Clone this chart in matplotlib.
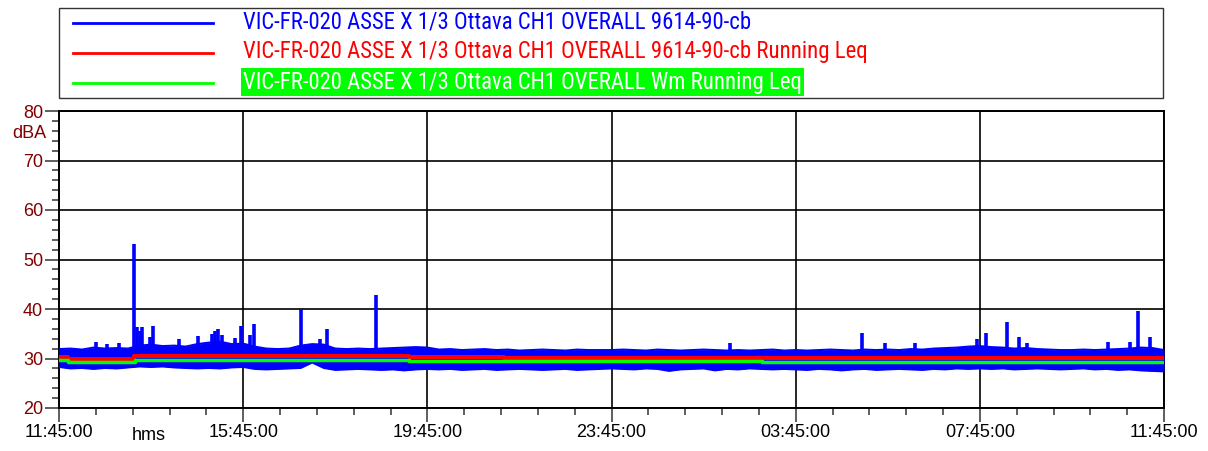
import numpy as np
import matplotlib
matplotlib.use("Agg")
import matplotlib.pyplot as plt
from matplotlib import font_manager as fm
from matplotlib.patches import Rectangle
from matplotlib.lines import Line2D

# ---------------- data ----------------
legend_labels = [
    "VIC-FR-020 ASSE X 1/3 Ottava CH1 OVERALL 9614-90-cb",
    "VIC-FR-020 ASSE X 1/3 Ottava CH1 OVERALL 9614-90-cb Running Leq",
    "VIC-FR-020 ASSE X 1/3 Ottava CH1 OVERALL Wm Running Leq",
]
x_tick_hours = [0, 4, 8, 12, 16, 20, 24]
x_tick_labels = ["11:45:00", "15:45:00", "19:45:00", "23:45:00",
                 "03:45:00", "07:45:00", "11:45:00"]
y_ticks = [20, 30, 40, 50, 60, 70, 80]
y_unit = "dBA"
x_unit = "hms"

# envelope of the blue (instantaneous) level, one value every 15 minutes (hours 0..24)
band_step_h = 0.25
band_hi = [31.9, 32.0, 31.8, 32.2, 32.0, 32.1, 32.0, 32.6, 32.8, 32.5,
           32.6, 32.4, 32.9, 33.2, 33.4, 32.9, 33.0, 32.4, 32.0, 31.9,
           32.0, 32.6, 32.9, 32.8, 32.0, 31.9, 32.0, 31.9, 32.0, 32.1,
           32.2, 32.3, 32.2, 31.8, 31.9, 31.7, 31.8, 31.9, 31.7, 31.8,
           31.6, 31.7, 31.8, 31.7, 31.6, 31.8, 31.7, 31.7, 31.7, 31.8,
           31.7, 31.6, 31.8, 31.7, 31.6, 31.7, 31.8, 31.7, 31.6, 31.7,
           31.6, 31.7, 31.8, 31.6, 31.7, 31.6, 31.7, 31.8, 31.7, 31.6,
           31.8, 31.7, 31.8, 31.7, 31.9, 31.8, 32.0, 32.1, 32.2, 32.4,
           32.5, 32.3, 32.2, 32.0, 32.1, 31.9, 31.8, 31.7, 31.7, 31.8,
           31.7, 31.8, 31.9, 32.0, 32.2, 32.1, 31.7]
band_lo = [28.3, 28.0, 28.1, 27.9, 28.1, 28.0, 28.2, 28.4, 28.3, 28.4,
           28.2, 28.1, 28.0, 28.1, 28.0, 28.2, 28.3, 27.9, 27.8, 27.9,
           28.0, 28.1, 29.2, 28.1, 27.7, 27.8, 27.9, 27.8, 27.7, 27.8,
           27.6, 27.8, 27.9, 27.8, 27.9, 27.7, 27.8, 27.9, 27.7, 27.8,
           27.9, 27.8, 27.7, 27.8, 27.9, 27.7, 27.8, 27.9, 28.0, 27.9,
           27.8, 28.0, 27.9, 27.5, 27.8, 27.9, 28.0, 27.6, 27.9, 27.8,
           28.0, 27.9, 27.8, 27.9, 27.8, 27.7, 27.9, 27.8, 27.6, 27.8,
           27.9, 27.7, 27.8, 27.9, 27.8, 27.7, 27.9, 27.8, 28.0, 27.9,
           28.0, 27.9, 28.0, 27.8, 27.9, 28.0, 27.9, 27.8, 27.9, 28.0,
           27.8, 27.9, 27.7, 27.8, 27.6, 27.5, 27.4]

# short peaks of the blue level (hours from 11:45, dBA)
spike_h = [0.80, 1.04, 1.30, 1.62, 1.70, 1.76, 1.81, 1.97, 2.04, 2.60,
           3.01, 3.32, 3.39, 3.46, 3.54, 3.82, 3.96, 4.15, 4.24, 5.26,
           5.66, 5.83, 6.88, 14.57, 17.45, 17.94, 18.59, 19.93, 20.14, 20.58,
           20.84, 21.03, 22.78, 23.26, 23.44, 23.70]
spike_db = [33.4, 32.9, 33.1, 53.2, 36.4, 35.5, 36.4, 34.4, 36.6, 33.9,
            34.6, 35.0, 35.5, 35.9, 34.7, 34.1, 36.5, 34.7, 36.9, 40.0,
            33.9, 36.0, 42.8, 33.1, 35.1, 33.1, 33.1, 33.9, 35.1, 37.4,
            34.3, 33.2, 33.4, 33.4, 39.5, 34.3]

# running Leq (red) and Wm running Leq (green): step changes
leq_t = [0.0, 0.2, 1.62, 4.0, 7.6, 9.67, 12.0, 24.0]
leq_db = [30.4, 30.0, 30.5, 30.45, 30.35, 30.15, 30.1, 30.1]
wm_t = [0.0, 0.2, 1.65, 7.6, 9.9, 15.27, 24.0]
wm_db = [29.6, 29.3, 29.75, 29.5, 29.4, 29.25, 29.25]

# ---------------- style ----------------
entries = fm.fontManager.ttflist
avail = {f.name for f in entries}
FONT = "Liberation Sans" if "Liberation Sans" in avail else "DejaVu Sans"

legend_font = dict(family=[FONT, "DejaVu Sans"])
for cand in ["Liberation Sans Narrow", "Arial Narrow", "Roboto Condensed",
             "Open Sans Condensed", "Noto Sans Condensed"]:
    if cand in avail:
        legend_font = dict(family=[cand, "DejaVu Sans"])
        break
else:
    cond = [f for f in entries
            if f.stretch in ("condensed", "semi-condensed", 600, 700)
            and f.style == "normal" and f.weight in (400, "normal", "regular")]
    pref = ["Roboto", "Noto Sans", "Open Sans", "Liberation Sans", "DejaVu Sans"]
    for p in pref:
        hit = [f for f in cond if f.name == p]
        if hit:
            legend_font = dict(family=[p, "DejaVu Sans"], fontstretch=hit[0].stretch)
            break

plt.rcParams["font.family"] = [FONT, "DejaVu Sans"]

W, H = 1208, 451
BLUE, RED, GREEN = "#0000ff", "#ff0000", "#00ff00"
MAROON = "#800000"

def fx(px):
    return px / W

def fy(py):
    return 1 - py / H

fig = plt.figure(figsize=(W / 100, H / 100), dpi=100)
fig.patch.set_facecolor("white")

ax = fig.add_axes([fx(59), fy(408), fx(1164) - fx(59), fy(111) - fy(408)])
ax.set_xlim(0, 24)
ax.set_ylim(20, 80)

band_t = np.arange(len(band_hi)) * band_step_h
ax.fill_between(band_t, band_lo, band_hi, color=BLUE, lw=0, zorder=3)
ax.plot(band_t, band_hi, color=BLUE, lw=1.5, zorder=3)
ax.plot(band_t, band_lo, color=BLUE, lw=1.5, zorder=3)
ax.vlines(spike_h, 31.0, spike_db, color=BLUE, lw=2.6, zorder=3)

ax.step(leq_t, leq_db, where="post", color=RED, lw=2.9, zorder=4)
ax.step(wm_t, wm_db, where="post", color=GREEN, lw=2.5, zorder=5)

# ticks & grid
ax.set_xticks(x_tick_hours)
ax.set_xticklabels(x_tick_labels)
ax.set_xticks(np.arange(0, 24.01, 0.8), minor=True)
ax.set_yticks(y_ticks)
ax.set_yticks(np.arange(20, 80.1, 2), minor=True)
ax.grid(True, which="major", color="black", lw=1.2, zorder=1)
ax.set_axisbelow(True)
for s in ax.spines.values():
    s.set_color("black")
    s.set_linewidth(1.4)

ax.tick_params(axis="both", which="major", length=10, width=1.1, color="#333333",
               labelsize=13, pad=1.5)
ax.tick_params(axis="both", which="minor", length=5, width=1.1, color="#333333")
ax.tick_params(axis="y", which="major", labelcolor=MAROON)
ax.tick_params(axis="x", which="major", labelcolor="black")

fig.text(fx(46), fy(134), y_unit, color=MAROON, fontsize=13, ha="right", va="center")
fig.text(fx(149), fy(436), x_unit, color="black", fontsize=13, ha="center", va="center")

# legend box
fig.add_artist(Rectangle((fx(59), fy(98)), fx(1163) - fx(59), fy(8) - fy(98),
                         transform=fig.transFigure, fill=False,
                         edgecolor="#333333", lw=1.0))
row_y = [23, 53, 83]
base_y = [28.5, 58.5, 88.5]
colors = [BLUE, RED, GREEN]
texts = []
for lab, c, ly, by in zip(legend_labels, colors, row_y, base_y):
    fig.add_artist(Line2D([fx(73), fx(213)], [fy(ly), fy(ly)],
                          transform=fig.transFigure, color=c, lw=2.0))
    if c == GREEN:
        t = fig.text(fx(243), fy(by), lab, color="white", fontsize=16,
                     ha="left", va="baseline",
                     bbox=dict(facecolor=GREEN, edgecolor="none", pad=1.5),
                     **legend_font)
    else:
        t = fig.text(fx(243), fy(by), lab, color=c, fontsize=16,
                     ha="left", va="baseline", **legend_font)
    texts.append(t)

# fit the legend text width to the reference (first label ~509 px wide)
renderer = fig.canvas.get_renderer()
w0 = texts[0].get_window_extent(renderer=renderer).width
size = min(16.5, 16 * 509.0 / w0)
for t in texts:
    t.set_fontsize(size)

fig.savefig("out.png", dpi=100, facecolor="white")
